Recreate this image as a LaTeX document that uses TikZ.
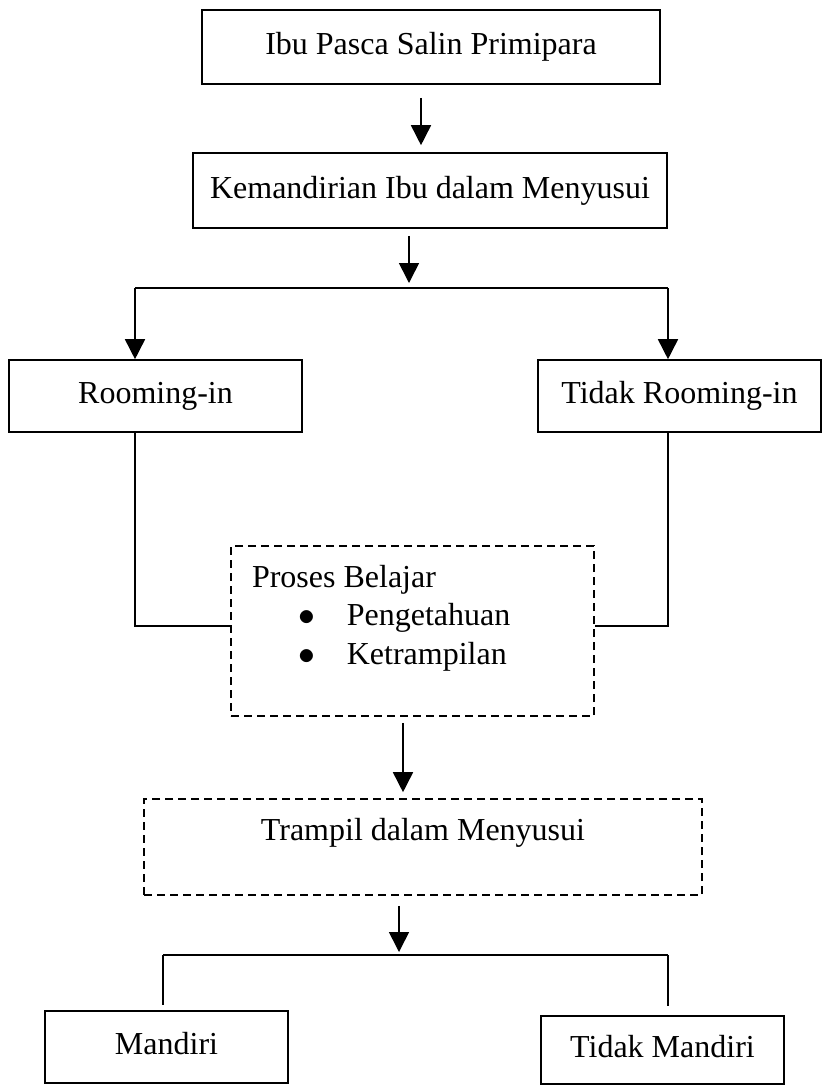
\documentclass[tikz,border=0pt]{standalone}
\usepackage{graphicx}
\usepackage{fontspec}
\setmainfont{Liberation Serif}
\usetikzlibrary{arrows.meta, positioning, calc}

\begin{document}
\begin{tikzpicture}[x=1pt, y=-1pt, line width=1.6pt,
    font=\fontsize{32}{38.5}\selectfont,
    box/.style={draw, rectangle, inner sep=0pt, text height=22pt, text depth=7pt},
    dashbox/.style={box, dash pattern=on 8pt off 5pt},
    arr/.style={-{Triangle[length=20pt, width=20pt]}}]

    \useasboundingbox (0,0) rectangle (822,1085);

      \node[box, minimum width=458pt, minimum height=74pt]  (ibu)           at (431,47)    {Ibu Pasca Salin Primipara};
      \node[box, minimum width=474pt, minimum height=75pt]  (kemandirian)   at (430,190.5) {Kemandirian Ibu dalam Menyusui};
      \node[box, minimum width=293pt, minimum height=72pt]  (rooming)       at (155.5,396) {Rooming-in};
      \node[box, minimum width=283pt, minimum height=72pt]  (tidak_rooming) at (679.5,396) {Tidak Rooming-in};
      \node[dashbox, minimum width=363pt, minimum height=170pt] (proses)    at (412.5,631) {};
      \node[anchor=north west, align=left, inner sep=0pt] (proses_isi) at ([xshift=21pt, yshift=-19pt]proses.north west)
            {Proses Belajar\\
             \hspace*{46pt}\scalebox{1.35}{$\bullet$}\hspace*{32pt}Pengetahuan\\
             \hspace*{46pt}\scalebox{1.35}{$\bullet$}\hspace*{32pt}Ketrampilan};
      \node[dashbox, minimum width=558pt, minimum height=96pt, text depth=36pt] (trampil) at (423,847) {Trampil dalam Menyusui};
      \node[box, minimum width=243pt, minimum height=72pt]  (mandiri)       at (166.5,1047) {Mandiri};
      \node[box, minimum width=243pt, minimum height=68pt]  (tidak_mandiri) at (662.5,1050) {Tidak Mandiri};

      \coordinate (cabang_atas)  at (409,288);
      \coordinate (kiri_atas)    at (135,288);
      \coordinate (kanan_atas)   at (668,288);
      \coordinate (cabang_bawah) at (399,955);
      \coordinate (kiri_bawah)   at (163,955);
      \coordinate (kanan_bawah)  at (668,955);

      \draw[arr, shorten <=13pt, shorten >=7pt] ([xshift=-10pt]ibu.south) -- ([xshift=-10pt]ibu.south |- kemandirian.north);
      \draw[arr, shorten <=7pt, shorten >=5pt] (kemandirian.south -| cabang_atas) -- (cabang_atas);
      \draw (kiri_atas) -- (kanan_atas);
      \draw[arr] (kiri_atas) -- (kiri_atas |- rooming.north);
      \draw[arr] (kanan_atas) -- (kanan_atas |- tidak_rooming.north);
      \draw (kiri_atas |- rooming.south) |- ([yshift=5pt]proses.west);
      \draw (kanan_atas |- tidak_rooming.south) |- ([yshift=5pt]proses.east);
      \draw[arr, shorten <=6pt, shorten >=6pt] ([xshift=-9.5pt]proses.south) -- ([xshift=-9.5pt]proses.south |- trampil.north);
      \draw[arr, shorten <=10pt, shorten >=3pt] (trampil.south -| cabang_bawah) -- (cabang_bawah);
      \draw (kiri_bawah) -- (kanan_bawah);
      \draw[shorten >=5pt] (kiri_bawah) -- (kiri_bawah |- mandiri.north);
      \draw[shorten >=9pt] (kanan_bawah) -- (kanan_bawah |- tidak_mandiri.north);
    \end{tikzpicture}
\end{document}
